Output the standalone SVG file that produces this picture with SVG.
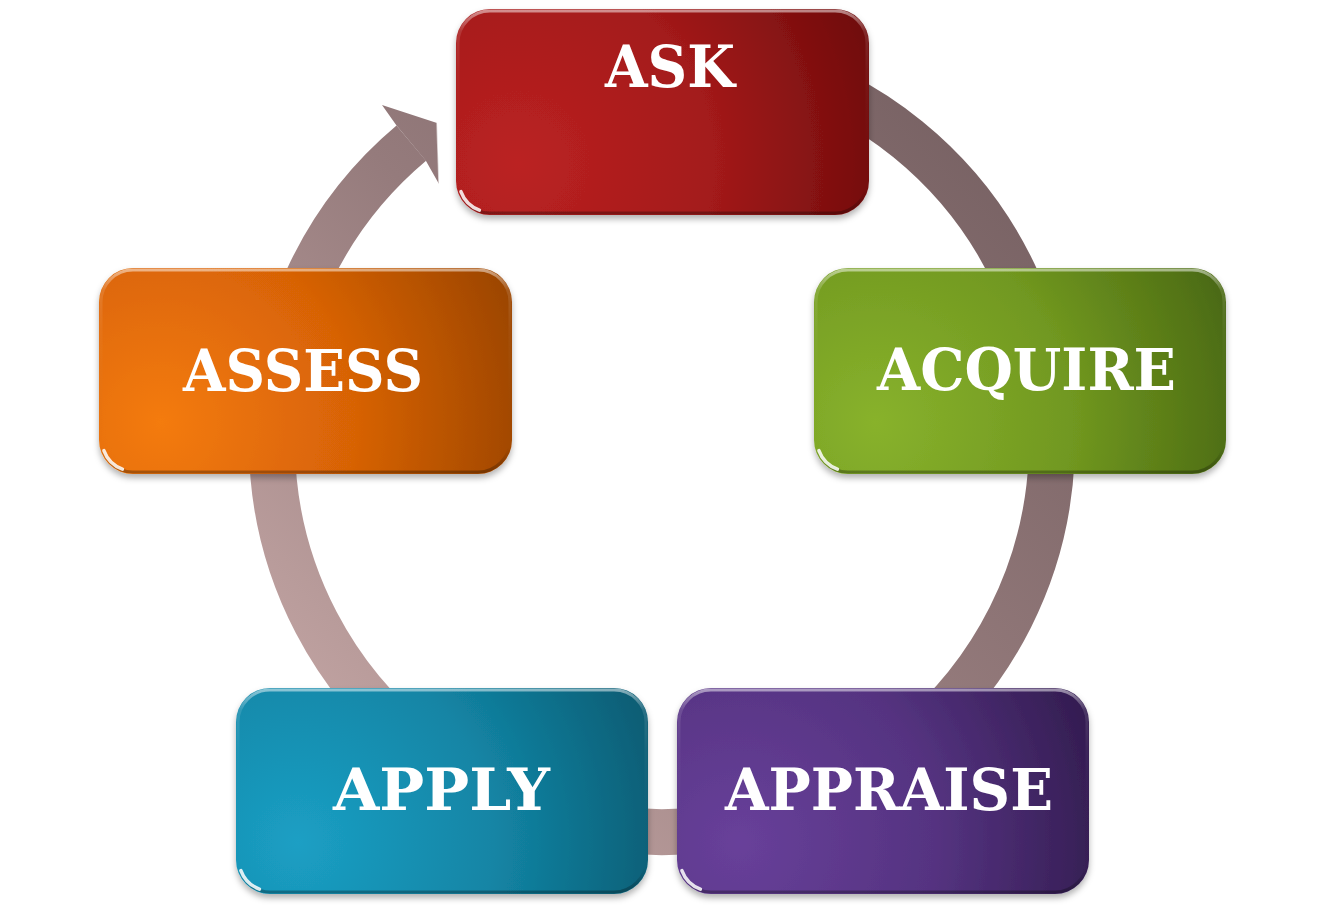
<svg xmlns="http://www.w3.org/2000/svg" width="1325" height="909" viewBox="0 0 1325 909">
  <defs>
    <linearGradient id="ringG" gradientUnits="userSpaceOnUse" x1="1075" y1="30" x2="250" y2="855">
      <stop offset="0" stop-color="#6f5a5c"/>
      <stop offset="0.5" stop-color="#957b7c"/>
      <stop offset="1" stop-color="#cfb0ae"/>
    </linearGradient>
    <radialGradient id="gAsk" cx="0.15" cy="0.75" r="0.95" fx="0.15" fy="0.75" gradientTransform="translate(0.15,0.75) scale(1,2) translate(-0.15,-0.75)">
      <stop offset="0" stop-color="#bb2222"/>
      <stop offset="0.5" stop-color="#a31a1a"/>
      <stop offset="1" stop-color="#6a0a0a"/>
    </radialGradient>
    <radialGradient id="gAcq" cx="0.15" cy="0.75" r="0.95" fx="0.15" fy="0.75" gradientTransform="translate(0.15,0.75) scale(1,2) translate(-0.15,-0.75)">
      <stop offset="0" stop-color="#88b22c"/>
      <stop offset="0.5" stop-color="#719820"/>
      <stop offset="1" stop-color="#466410"/>
    </radialGradient>
    <radialGradient id="gApr" cx="0.15" cy="0.75" r="0.95" fx="0.15" fy="0.75" gradientTransform="translate(0.15,0.75) scale(1,2) translate(-0.15,-0.75)">
      <stop offset="0" stop-color="#68409a"/>
      <stop offset="0.5" stop-color="#553381"/>
      <stop offset="1" stop-color="#2f1a4b"/>
    </radialGradient>
    <radialGradient id="gApl" cx="0.15" cy="0.75" r="0.95" fx="0.15" fy="0.75" gradientTransform="translate(0.15,0.75) scale(1,2) translate(-0.15,-0.75)">
      <stop offset="0" stop-color="#1b9fc4"/>
      <stop offset="0.5" stop-color="#1385a5"/>
      <stop offset="1" stop-color="#08586e"/>
    </radialGradient>
    <radialGradient id="gAss" cx="0.15" cy="0.75" r="0.95" fx="0.15" fy="0.75" gradientTransform="translate(0.15,0.75) scale(1,2) translate(-0.15,-0.75)">
      <stop offset="0" stop-color="#f47b0b"/>
      <stop offset="0.5" stop-color="#d76206"/>
      <stop offset="1" stop-color="#954200"/>
    </radialGradient>
    <linearGradient id="hl" x1="0" y1="0" x2="0" y2="1">
      <stop offset="0" stop-color="#ffffff" stop-opacity="0.5"/>
      <stop offset="0.1" stop-color="#ffffff" stop-opacity="0.12"/>
      <stop offset="0.3" stop-color="#ffffff" stop-opacity="0.04"/>
      <stop offset="0.88" stop-color="#000000" stop-opacity="0"/>
      <stop offset="1" stop-color="#000000" stop-opacity="0.3"/>
    </linearGradient>
    <filter id="sh" x="-10%" y="-10%" width="120%" height="130%">
      <feDropShadow dx="0" dy="4" stdDeviation="3" flood-color="#000000" flood-opacity="0.3"/>
    </filter>
    <style>
      .lbl { font-family: "DejaVu Serif", "Liberation Serif", serif; font-weight: bold; font-size: 58px; fill: #ffffff; text-anchor: middle; }
      .hl { fill: none; stroke: url(#hl); stroke-width: 3; }
      .spec { fill: none; stroke: #ffffff; stroke-opacity: 0.85; stroke-width: 3.5; stroke-linecap: round; }
    </style>
  </defs>

  <g id="connectors">
    <path d="M 762.9 65.3 A 390 390 0 1 1 411.3 143.2" fill="none" stroke="url(#ringG)" stroke-width="46"/>
    <polygon points="396.5,125.6 382,105 437,123 439,184 426,161" fill="url(#ringG)"/>
    <line x1="437" y1="123" x2="439" y2="184" stroke="#ffffff" stroke-width="1.5" opacity="0.6"/>
  </g>

  <g id="node-ask">
    <rect x="456" y="9" width="413" height="206" rx="34" fill="url(#gAsk)" filter="url(#sh)"/>
    <rect x="458" y="11" width="409" height="202" rx="32" class="hl"/>
    <path d="M 460.9 191.6 A 31 31 0 0 0 479.4 210.1" class="spec"/>
    <text class="lbl" x="670" y="87" textLength="130" lengthAdjust="spacingAndGlyphs">ASK</text>
  </g>

  <g id="node-acquire">
    <rect x="814" y="268" width="412" height="206" rx="34" fill="url(#gAcq)" filter="url(#sh)"/>
    <rect x="816" y="270" width="408" height="202" rx="32" class="hl"/>
    <path d="M 818.9 450.6 A 31 31 0 0 0 837.4 469.1" class="spec"/>
    <text class="lbl" x="1026.5" y="390" textLength="299" lengthAdjust="spacingAndGlyphs">ACQUIRE</text>
  </g>

  <g id="node-appraise">
    <rect x="677" y="688" width="412" height="206" rx="34" fill="url(#gApr)" filter="url(#sh)"/>
    <rect x="679" y="690" width="408" height="202" rx="32" class="hl"/>
    <path d="M 681.9 870.6 A 31 31 0 0 0 700.4 889.1" class="spec"/>
    <text class="lbl" x="889" y="810" textLength="328" lengthAdjust="spacingAndGlyphs">APPRAISE</text>
  </g>

  <g id="node-apply">
    <rect x="236" y="688" width="412" height="206" rx="34" fill="url(#gApl)" filter="url(#sh)"/>
    <rect x="238" y="690" width="408" height="202" rx="32" class="hl"/>
    <path d="M 240.9 870.6 A 31 31 0 0 0 259.4 889.1" class="spec"/>
    <text class="lbl" x="441.5" y="810" textLength="217" lengthAdjust="spacingAndGlyphs">APPLY</text>
  </g>

  <g id="node-assess">
    <rect x="99" y="268" width="413" height="206" rx="34" fill="url(#gAss)" filter="url(#sh)"/>
    <rect x="101" y="270" width="409" height="202" rx="32" class="hl"/>
    <path d="M 103.9 450.6 A 31 31 0 0 0 122.4 469.1" class="spec"/>
    <text class="lbl" x="303" y="391" textLength="240" lengthAdjust="spacingAndGlyphs">ASSESS</text>
  </g>
</svg>
